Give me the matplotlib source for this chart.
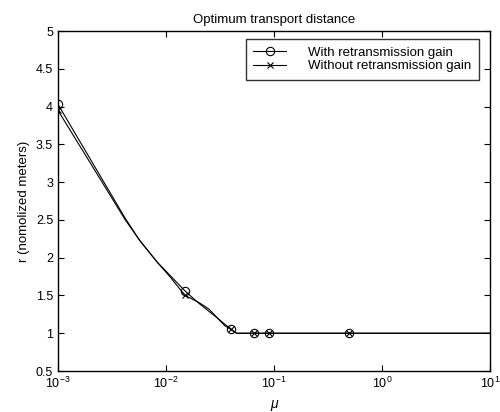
import matplotlib
matplotlib.use("Agg")
import matplotlib.pyplot as plt
from matplotlib.ticker import LogLocator, NullLocator, MultipleLocator

plt.rcParams["font.family"] = ["Liberation Sans", "DejaVu Sans"]

# curve with retransmission gain
mu_with = [0.001, 0.0042, 0.0057, 0.0083, 0.011, 0.015, 0.02, 0.025, 0.03,
           0.035, 0.04, 0.045, 0.065, 0.09, 0.5, 10]
r_with = [4.03, 2.52, 2.23, 1.94, 1.76, 1.56, 1.40, 1.29, 1.20,
          1.12, 1.05, 1.0, 1.0, 1.0, 1.0, 1.0]
marks_with = [0, 5, 10, 12, 13, 14]

# curve without retransmission gain
mu_without = [0.001, 0.0042, 0.0057, 0.0083, 0.011, 0.015, 0.02, 0.025, 0.03,
              0.035, 0.04, 0.045, 0.065, 0.09, 0.5, 10]
r_without = [3.95, 2.50, 2.23, 1.94, 1.74, 1.50, 1.41, 1.32, 1.20,
             1.10, 1.05, 1.0, 1.0, 1.0, 1.0, 1.0]
marks_without = [0, 5, 10, 12, 13, 14]

fig = plt.figure(figsize=(5, 4.12), dpi=100)
ax = fig.add_axes([0.116, 0.0995, 0.864, 0.825])

ax.plot(mu_with, r_with, color="black", lw=0.8, marker="o", ms=6,
        mfc="none", mew=0.8, markevery=marks_with,
        label="With retransmission gain")
ax.plot(mu_without, r_without, color="black", lw=0.8, marker="x", ms=4,
        mew=0.8, markevery=marks_without,
        label="Without retransmission gain")

ax.set_xscale("log")
ax.set_xlim(1e-3, 10)
ax.set_ylim(0.5, 5)
ax.xaxis.set_major_locator(LogLocator(base=10, numticks=10))
ax.xaxis.set_minor_locator(NullLocator())
ax.yaxis.set_major_locator(MultipleLocator(0.5))
ax.set_yticklabels([f"{v:g}" for v in ax.get_yticks()])

ax.tick_params(direction="in", top=True, right=True, labelsize=9,
               length=4, width=0.8)
for s in ax.spines.values():
    s.set_linewidth(1.0)

ax.set_title("Optimum transport distance", fontsize=9.5)
ax.set_xlabel("μ", fontsize=10, style="italic")
ax.set_ylabel("r (nomolized meters)", fontsize=9.5)

leg = ax.legend(loc="upper right", fontsize=9.5, frameon=True, fancybox=False,
                edgecolor="black", borderpad=0.55, labelspacing=0.1,
                handlelength=2.5, handletextpad=1.7, borderaxespad=0,
                bbox_to_anchor=(0.9745, 0.976))
leg.get_frame().set_linewidth(1.0)

fig.savefig("out.png", dpi=100)
